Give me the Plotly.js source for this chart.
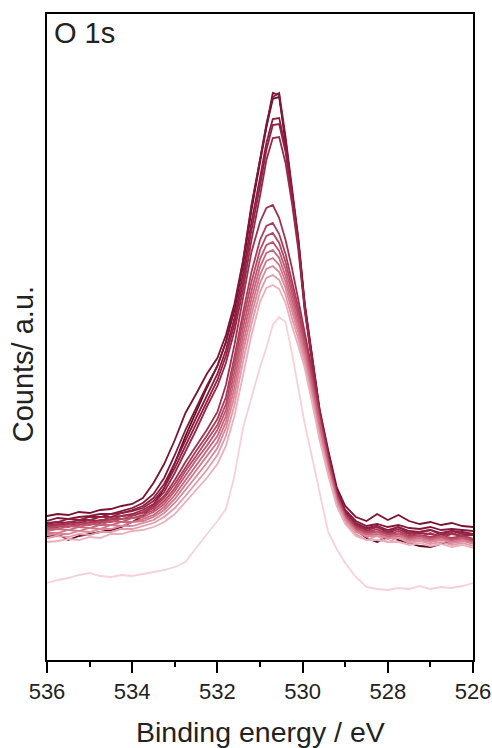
<!DOCTYPE html>
<html>
<head>
<meta charset="utf-8">
<script src="https://cdn.plot.ly/plotly-3.0.1.min.js"></script>
<style>html,body{margin:0;padding:0;background:#fff;}#chart{width:492px;height:748px;}</style>
</head>
<body>
<div id="chart"></div>
<script>
// Binding energy grid (eV)
const energy = [536,535.75,535.5,535.25,535,534.75,534.5,534.25,534,533.75,533.5,533.25,533,532.75,532.5,532.25,532,531.8,531.6,531.4,531.2,531,530.85,530.7,530.55,530.4,530.25,530.1,529.95,529.8,529.6,529.4,529.2,529,528.75,528.5,528.25,528,527.75,527.5,527.25,527,526.75,526.5,526.25,526];

// Spectra (counts, a.u.), darkest to lightest
const s00 = [123,126,120,124,126,128,130,133,138,144,155,172,197,224,248,272,294,318,350,395,450,498,533,561,563,520,470,416,352,305,246,204,166,144,130,122,118,123,120,117,114,113,116,118,119,121];
const s01 = [144,146,145,148,147,150,151,154,156,162,177,196,220,247,266,286,302,325,356,399,455,500,535,567,565,518,472,420,355,310,250,210,173,154,143,139,146,140,145,139,136,138,135,137,134,133];
const s02 = [139,142,141,143,144,146,146,149,152,157,166,182,205,230,252,274,294,318,352,398,453,500,536,563,567,523,474,422,357,311,250,208,170,150,139,134,136,133,135,132,131,133,130,131,130,129];
const s03 = [137,138,141,140,143,143,146,147,150,154,162,176,197,220,242,264,286,310,342,386,438,482,517,541,542,512,468,418,354,308,247,205,168,148,137,132,134,130,133,129,128,130,127,129,128,126];
const s04 = [136,138,137,140,140,143,143,147,149,152,159,172,192,214,236,259,280,304,336,378,430,474,510,535,536,508,464,415,352,306,246,204,167,147,136,131,134,128,133,127,128,130,125,129,126,125];
const s05 = [135,135,138,137,140,139,143,144,146,150,156,168,187,208,230,253,274,297,329,370,420,464,500,522,523,497,457,410,349,304,245,203,166,146,135,129,133,127,131,126,127,126,124,127,124,125];
const s06 = [134,136,135,138,137,140,140,144,145,148,154,164,180,198,214,230,248,275,315,360,408,438,452,455,442,420,392,360,328,295,244,202,166,146,134,130,127,129,125,128,123,127,122,126,124,121];
const s07 = [133,133,136,135,138,137,141,141,144,147,152,162,176,193,209,224,241,263,303,347,388,420,434,437,426,406,380,352,322,290,241,200,165,145,133,127,131,125,129,124,125,123,124,122,124,121];
const s08 = [132,134,133,136,135,138,138,141,142,145,150,159,172,189,204,219,235,256,296,340,378,410,424,427,417,398,373,347,318,286,239,198,164,144,132,128,128,126,126,123,124,122,123,121,122,121];
const s09 = [131,131,134,133,136,135,139,138,142,143,148,156,169,185,200,214,230,250,288,332,369,401,415,418,409,391,367,342,314,282,236,196,163,143,131,125,129,123,127,122,124,121,124,120,122,119];
const s10 = [129,131,130,133,132,135,135,138,138,141,145,153,165,180,195,209,224,244,280,324,361,393,407,410,402,384,361,337,310,278,233,194,161,142,130,126,126,124,124,121,122,120,122,119,121,118];
const s11 = [127,127,130,129,132,131,135,134,138,139,143,150,161,175,189,203,218,238,272,316,353,385,399,402,395,378,355,332,306,274,230,192,160,141,129,123,127,121,125,120,122,119,121,118,120,117];
const s12 = [125,126,126,129,128,131,131,134,134,137,140,147,157,170,183,197,212,232,264,308,345,377,391,394,388,372,349,327,302,270,227,190,158,140,128,124,124,122,122,119,120,118,120,117,119,116];
const s13 = [122,124,123,126,125,128,128,131,131,134,137,143,152,164,177,190,205,224,255,298,336,368,382,385,380,365,342,321,297,266,224,188,156,138,126,120,124,118,122,117,119,116,118,115,117,114];
const s14 = [118,119,121,120,123,122,126,126,129,130,133,138,146,158,170,182,196,214,244,286,325,358,372,375,371,357,334,314,292,262,220,185,154,136,124,120,120,118,118,115,117,114,116,113,115,112];
const s15 = [77,80,82,85,87,84,83,85,84,86,88,90,93,98,112,125,139,151,184,232,262,293,312,335,343,338,307,273,236,207,166,128,111,97,83,73,71,70,72,71,74,71,73,72,74,77];

const seriesList = [s00,s01,s02,s03,s04,s05,s06,s07,s08,s09,s10,s11,s12,s13,s14,s15];
const colors = ['#5c0a1f','#7a1230','#83173a','#8b1c3e','#922143','#992747','#a1304f','#ab3b58','#b54763','#bf556f','#c8647c','#d1758a','#d98799','#e29aa9','#eab0bc','#f7d1da'];
const xTicks = [536,534,532,530,528,526];

const font = 'Liberation Sans, Arial, sans-serif';

const traces = seriesList.map((ys, i) => ({
  x: energy, y: ys, type: 'scatter', mode: 'lines',
  line: {color: colors[i], width: 1.8},
  hoverinfo: 'skip'
}));

const layout = {
  width: 492, height: 748,
  margin: {l: 47, r: 19, t: 14, b: 88},
  paper_bgcolor: '#fff', plot_bgcolor: '#fff',
  showlegend: false,
  xaxis: {
    range: [536, 526], tickvals: xTicks, ticktext: xTicks.map(String),
    ticks: 'outside', ticklen: 11, tickwidth: 2, tickcolor: '#000',
    ticklabeloverflow: 'allow',
    showline: true, linewidth: 2, linecolor: '#000', mirror: true,
    showgrid: false, zeroline: false,
    tickfont: {family: font, size: 22, color: '#222'},
    minor: {dtick: 1, tick0: 526, ticks: 'outside', ticklen: 5, tickwidth: 2, tickcolor: '#000', showgrid: false}
  },
  yaxis: {
    range: [0, 646], showticklabels: false, ticks: '',
    showline: true, linewidth: 2, linecolor: '#000', mirror: true,
    showgrid: false, zeroline: false
  },
  annotations: [
    {text: 'Binding energy / eV', xref: 'paper', yref: 'paper', x: 0.5, y: -0.111,
     xanchor: 'center', yanchor: 'middle', showarrow: false, font: {family: font, size: 28.5, color: '#222'}},
    {text: 'Counts/ a.u.', xref: 'paper', yref: 'paper', x: -0.056, y: 0.458, textangle: -90,
     xanchor: 'center', yanchor: 'middle', showarrow: false, font: {family: font, size: 29, color: '#222'}},
    {text: 'O 1s', xref: 'paper', yref: 'paper', x: 0.012, y: 0.971,
     xanchor: 'left', yanchor: 'middle', showarrow: false, font: {family: font, size: 29, color: '#222'}}
  ]
};

Plotly.newPlot('chart', traces, layout, {displayModeBar: false, staticPlot: true});
</script>
</body>
</html>
